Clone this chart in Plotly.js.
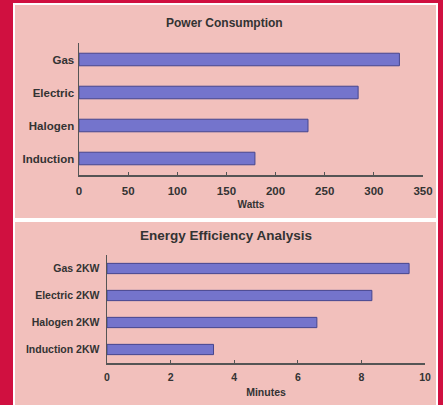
<!DOCTYPE html>
<html>
<head>
<meta charset="utf-8">
<script src="https://cdn.plot.ly/plotly-3.0.1.min.js"></script>
<style>html,body{margin:0;padding:0;background:#d01040;}#chart{width:443px;height:405px;}</style>
</head>
<body>
<div id="chart"></div>
<script>
const powerCategories = ["Induction", "Halogen", "Electric", "Gas"];
const powerWatts = [179, 233, 284, 326];
const efficiencyCategories = ["Induction 2KW", "Halogen 2KW", "Electric 2KW", "Gas 2KW"];
const efficiencyMinutes = [3.35, 6.6, 8.33, 9.5];
const powerTicks = [0, 50, 100, 150, 200, 250, 300, 350];
const minuteTicks = [0, 2, 4, 6, 8, 10];

const W = 443, H = 405;
const px = v => v / W;
const py = v => 1 - v / H;

const barColor = '#7474cc';
const barLine = '#46468e';
const txt = '#333333';
const fam = 'Liberation Sans, Arial, sans-serif';
const f = (s) => ({family: fam, size: s, color: txt, weight: 'bold'});

const traces = [
  {type: 'bar', orientation: 'h', x: powerWatts, y: powerCategories, xaxis: 'x', yaxis: 'y',
   marker: {color: barColor, line: {color: barLine, width: 1}}, hoverinfo: 'none'},
  {type: 'bar', orientation: 'h', x: efficiencyMinutes, y: efficiencyCategories, xaxis: 'x2', yaxis: 'y2',
   marker: {color: barColor, line: {color: barLine, width: 1}}, hoverinfo: 'none'}
];

const axisCommon = {showgrid: false, zeroline: false, showline: true, linecolor: '#555', linewidth: 1.5,
  fixedrange: true};

const layout = {
  width: W, height: H,
  margin: {l: 0, r: 0, t: 0, b: 0},
  paper_bgcolor: '#d01040',
  plot_bgcolor: 'rgba(0,0,0,0)',
  showlegend: false,
  bargap: 0.62,
  xaxis: Object.assign({}, axisCommon, {domain: [px(79), px(423)], range: [0, 350], tickvals: powerTicks,
    ticks: 'inside', ticklen: 3, tickcolor: '#555', anchor: 'y', tickfont: f(11.5), ticklabelstandoff: 5,
    title: {text: 'Watts', font: f(10), standoff: 4}}),
  yaxis: Object.assign({}, axisCommon, {domain: [py(175), py(43)], anchor: 'x', ticks: '', ticklabelstandoff: 1,
    tickfont: f(11.5)}),
  xaxis2: Object.assign({}, axisCommon, {domain: [px(107), px(425)], range: [0, 10], tickvals: minuteTicks,
    ticks: 'inside', ticklen: 3, tickcolor: '#555', anchor: 'y2', tickfont: f(10.5), ticklabelstandoff: 4,
    title: {text: 'Minutes', font: f(10.5), standoff: 6}}),
  yaxis2: Object.assign({}, axisCommon, {domain: [py(363), py(255)], anchor: 'x2', ticks: '', ticklabelstandoff: 4,
    tickfont: f(10.5)}),
  shapes: [
    {type: 'rect', xref: 'paper', yref: 'paper', x0: px(14), x1: px(437), y0: py(219), y1: py(4),
     fillcolor: '#f2c0bc', line: {color: '#ffffff', width: 2}, layer: 'below'},
    {type: 'rect', xref: 'paper', yref: 'paper', x0: px(14), x1: px(437), y0: py(412), y1: py(221),
     fillcolor: '#f2c0bc', line: {color: '#ffffff', width: 2}, layer: 'below'}
  ],
  annotations: [
    {text: 'Power Consumption', xref: 'paper', yref: 'paper', x: px(224), y: py(23), showarrow: false,
     font: f(12), xanchor: 'center', yanchor: 'middle'},
    {text: 'Energy Efficiency Analysis', xref: 'paper', yref: 'paper', x: px(226), y: py(235), showarrow: false,
     font: f(13.5), xanchor: 'center', yanchor: 'middle'}
  ]
};

Plotly.newPlot('chart', traces, layout, {staticPlot: true, displayModeBar: false});
</script>
</body>
</html>
